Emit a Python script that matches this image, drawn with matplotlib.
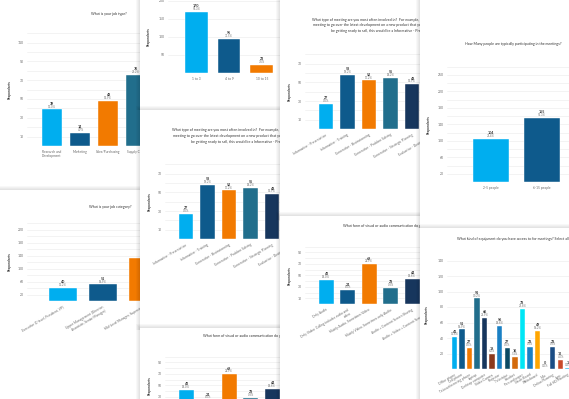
#!/usr/bin/env python3
"""Sheet of overlapping survey bar-chart cards, saved as out.png."""
import matplotlib

matplotlib.use("Agg")
import matplotlib.pyplot as plt
from matplotlib.patches import Rectangle

W, H = 569, 399
plt.rcParams["font.family"] = ["Lato", "DejaVu Sans"]

LIGHT = "#00aeef"
DARK = "#0e5a8c"
ORANGE = "#f27a00"
TEAL = "#216e8c"
NAVY = "#17365d"

# --- data ---------------------------------------------------------------
job_type = ["Research and\nDevelopment", "Marketing", "Sales/Purchasing", "Supply Chain"]
job_type_n = [39, 14, 48, 76]
job_type_pct = [13.0, 4.7, 15.9, 25.2]

job_cat = ["Executive (C-level, President, VP)",
           "Upper Management (Director,\nAssociate, Senior Manager)",
           "Mid-Level Manager, Supervisor"]
job_cat_n = [40, 51, 133]
job_cat_pct = [13.2, 16.9, 44.0]

group_size = ["1 to 3", "4 to 9", "10 to 15"]
group_size_n = [170, 95, 23]
group_size_pct = [56.3, 31.5, 7.6]

meeting_type = ["Informative - Presentation", "Informative - Training",
                "Generative - Brainstorming", "Generative - Problem Solving",
                "Generative - Strategic Planning", "Evaluative - Decision Making"]
meeting_type_n = [27, 58, 52, 55, 48, 62]
meeting_type_pct = [9.0, 19.2, 17.2, 18.2, 15.9, 20.5]
meeting_title = ["What type of meeting are you most often involved in?  For example, if you had a",
                 "meeting to go over the latest development on a new product that you will",
                 "be getting ready to sell, this would be a Informative - Presentation meeting."]

people = ["2-5 people", "6-15 people"]
people_n = [104, 155]
people_pct = [34.4, 51.3]

comm = ["Only Audio", "Only Video: Calling includes audio and\nvideo",
        "Mainly Audio, Sometimes Video", "Mainly Video, Sometimes only Audio",
        "Audio + Content/Screen Sharing", "Audio + Video + Content/Screen Sharing"]
comm_n = [42, 24, 69, 28, 44, 60]
comm_pct = [14.0, 8.0, 22.9, 9.3, 14.6, 19.9]

equip = ["Office phone", "Cell phone", "Teleconferencing phone", "Laptop",
         "Desktop computer", "Video Camera", "Projector", "Television", "Headset",
         "Pen and paper", "Smart Board", "Whiteboard", "Mac", "Online Planning",
         "Lync", "Full HD Meeting"]
equip_n = [41, 51, 27, 91, 66, 19, 56, 27, 16, 78, 28, 49, 0, 28, 12, 1]
equip_pct = [13.6, 16.9, 9.0, 30.2, 21.9, 6.3, 18.6, 9.0, 5.3, 25.8, 9.3, 16.2,
             0.0, 9.3, 4.0, 0.3]
equip_colors = [LIGHT, DARK, ORANGE, TEAL, NAVY, "#8c3a1e", "#1a80c4", "#0b4a64",
                "#d46a0c", "#00e6f5", "#1a80c4", "#ffa600", LIGHT, "#1b4d85",
                "#c94a2a", LIGHT]

FIVE = [LIGHT, DARK, ORANGE, TEAL, NAVY, "#8c3a1e"]


def px_rect(x, y, w, h):
    return [x / W, 1 - (y + h) / H, w / W, h / H]


def add_card(fig, x, y, w, h, z, shadow=4):
    ax = fig.add_axes(px_rect(x - shadow, y - shadow, w + shadow, h + shadow), zorder=z)
    ax.set_xlim(x - shadow, x + w)
    ax.set_ylim(y + h, y - shadow)
    ax.axis("off")
    for i in range(shadow):
        ax.add_patch(Rectangle((x - i - 1, y - i - 1), w + i + 1, h + i + 1,
                               color="black", alpha=0.028, lw=0))
    ax.add_patch(Rectangle((x, y), w, h, color="white", lw=0))
    return ax


def bar_chart(fig, z, cats, vals, pcts, colors, left, right, base, ppu, ymax,
              grid, ticks, c0, step, bar_w, ylabel_x, rot=0):
    top = base - ymax * ppu
    ax = fig.add_axes(px_rect(left, top, right - left, base - top), zorder=z + 0.5)
    ax.patch.set_alpha(0)
    n = len(vals)
    ax.set_xlim((left - c0) / step, (right - c0) / step)
    ax.set_ylim(0, ymax)
    for g in range(grid, ymax + 1, grid):
        ax.axhline(g, color="#ebebeb", lw=0.4, zorder=0)
    ax.axhline(0, color="#d5dae3", lw=0.5, zorder=0)
    ax.bar(range(n), vals, width=bar_w / step, color=colors[:n],
           edgecolor="white", linewidth=0.3, zorder=2)
    for i, (v, p) in enumerate(zip(vals, pcts)):
        ax.annotate(f"{v}", (i, v), xytext=(0, 2.6), textcoords="offset points",
                    ha="center", va="bottom", fontsize=2.6, fontweight="bold",
                    color="#333333")
        ax.annotate(f"{p:.1f}%", (i, v), xytext=(0, 0.6), textcoords="offset points",
                    ha="center", va="bottom", fontsize=2.1, color="#777777")
    for s in ax.spines.values():
        s.set_visible(False)
    ax.set_yticks(ticks)
    ax.tick_params(axis="y", length=0, labelsize=2.4, labelcolor="#666666", pad=2.2)
    ax.set_xticks(range(n))
    if rot:
        ax.set_xticklabels(cats, rotation=rot, ha="right", rotation_mode="anchor")
    else:
        ax.set_xticklabels(cats, linespacing=1.1)
    ax.tick_params(axis="x", length=0, labelsize=2.3, labelcolor="#666666", pad=2.8)
    ax.set_ylabel("Respondents", fontsize=2.3, fontweight="bold", color="#333333")
    ax.yaxis.set_label_coords((ylabel_x - left) / (right - left), 0.5)
    return ax


def title(card, x, y, text, ha="center"):
    card.text(x, y, text, ha=ha, va="center", fontsize=2.65, color="#333333")


def meeting_card(fig, dx, dy, z, top, h):
    card = add_card(fig, 280 + dx, top, 140, h, z)
    for (x, y), line in zip([(312, 20.5), (313, 25.5), (331, 31.5)], meeting_title):
        title(card, x + dx, y + dy, line, ha="left")
    bar_chart(fig, z, meeting_type, meeting_type_n, meeting_type_pct, FIVE,
              305 + dx, 470 + dx, 129 + dy, 0.933, 80, 10, range(10, 71, 20),
              326 + dx, 21.5, 14.5, 292 + dx, rot=30)


def comm_card(fig, dx, dy, z, top, h):
    card = add_card(fig, 280 + dx, top, 140, h, z)
    title(card, 343 + dx, 226 + dy,
          "What form of visual or audio communication do you use most often?", ha="left")
    bar_chart(fig, z, comm, comm_n, comm_pct, FIVE,
              305 + dx, 470 + dx, 304 + dy, 0.575, 100, 10, range(10, 91, 20),
              326 + dx, 21.5, 15, 292 + dx, rot=30)


def main() -> None:
    fig = plt.figure(figsize=(W / 100, H / 100), dpi=100)
    fig.patch.set_facecolor("#f4f4f4")

    # column 1
    card = add_card(fig, 0, 0, 140, 190, 1)
    title(card, 109, 14, "What is your job type?")
    bar_chart(fig, 1, job_type, job_type_n, job_type_pct, FIVE,
              27, 200, 146, 0.94, 120, 10, range(10, 111, 20),
              52, 28, 20, 12)

    card = add_card(fig, 0, 190, 140, 209, 2)
    title(card, 110, 207, "What is your job category?")
    bar_chart(fig, 2, job_cat, job_cat_n, job_cat_pct, FIVE,
              27, 200, 301, 0.325, 240, 20, range(20, 221, 40),
              62.5, 40, 28, 12, rot=30)

    # column 2
    add_card(fig, 140, -10, 140, 120, 3)
    bar_chart(fig, 3, group_size, group_size_n, group_size_pct, FIVE,
              168, 290, 73, 0.36, 200, 50, range(50, 201, 50),
              196.3, 32.7, 22.7, 151)
    meeting_card(fig, -140, 110, 4, 110, 220)
    comm_card(fig, -140, 110, 5, 328, 80)

    # column 3
    meeting_card(fig, 0, 0, 6, -10, 230)
    comm_card(fig, 0, 0, 7, 216, 190)

    # column 4
    card = add_card(fig, 420, -10, 160, 238, 8)
    title(card, 465, 44, "How Many people are typically participating in the meetings?", ha="left")
    bar_chart(fig, 8, people, people_n, people_pct, FIVE,
              447, 620, 182, 0.4125, 280, 20, range(20, 261, 40),
              491, 51, 36, 431)

    card = add_card(fig, 420, 228, 160, 180, 9)
    title(card, 457, 239,
          "What kind of equipment do you have access to for meetings? Select all that apply.",
          ha="left")
    bar_chart(fig, 9, equip, equip_n, equip_pct, equip_colors,
              447, 620, 369, 0.775, 140, 20, range(20, 141, 20),
              454.3, 7.57, 5.4, 429, rot=30)

    fig.savefig("out.png", dpi=100)


if __name__ == "__main__":
    main()
